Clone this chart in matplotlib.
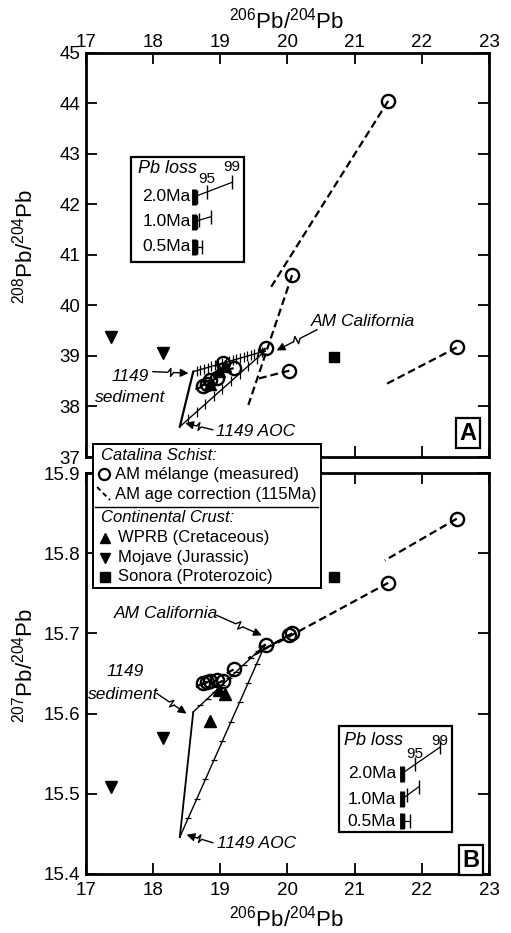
import numpy as np
import matplotlib
matplotlib.use('Agg')
import matplotlib.pyplot as plt
from matplotlib.patches import Rectangle

plt.rcParams['font.family'] = ['Liberation Sans', 'DejaVu Sans']
plt.rcParams['mathtext.fontset'] = 'custom'
plt.rcParams['mathtext.rm'] = 'Liberation Sans'
plt.rcParams['mathtext.it'] = 'Liberation Sans:italic'

# AM melange, medido
pb206 = [21.50, 22.52, 20.07, 20.03, 19.68, 19.20, 19.04, 18.95, 18.85, 18.74, 18.80]
pb207 = [15.763, 15.843, 15.700, 15.698, 15.686, 15.655, 15.641, 15.642, 15.641, 15.638, 15.640]
pb208 = [44.05, 39.17, 40.60, 38.71, 39.15, 38.76, 38.86, 38.56, 38.52, 38.40, 38.45]

# corregido a 115 Ma
corr206 = [19.76, 21.45, 19.42, 19.56, 19.55, 19.05, 18.95, 18.85, 18.70, 18.60, 18.70]
corr207 = [15.684, 15.791, 15.669, 15.676, 15.681, 15.648, 15.637, 15.637, 15.634, 15.631, 15.635]
corr208 = [40.37, 38.43, 38.03, 38.55, 39.05, 38.70, 38.80, 38.50, 38.45, 38.32, 38.40]

# corteza continental
wprb206 = [18.85, 19.07, 18.98]
wprb207 = [15.591, 15.625, 15.630]
wprb208 = [38.45, 38.80, 38.70]
mojave206 = [17.38, 18.15]
mojave207 = [15.509, 15.570]
mojave208 = [39.37, 39.06]
sonora206 = [20.69]
sonora207 = [15.770]
sonora208 = [38.99]

# miembros extremos de mezcla (206, 207, 208)
aoc = [18.40, 15.446, 37.60]
sed = [18.60, 15.602, 38.69]
amcal = [19.67, 15.686, 39.10]

# perdida de Pb (desplazamientos al 95 y 99 %)
loss_labels = ['2.0Ma', '1.0Ma', '0.5Ma']
loss_d206_95 = [0.20, 0.08, 0.04]
loss_d206_99 = [0.57, 0.26, 0.12]
loss_d207_99 = [0.033, 0.016, 0.0]
loss_d208_99 = [0.29, 0.10, 0.0]

W, H = 511, 933
fig = plt.figure(figsize=(W / 100, H / 100), dpi=100)

def px_box(x0, y0, x1, y1):
    return [x0 / W, 1 - y1 / H, (x1 - x0) / W, (y1 - y0) / H]

axA = fig.add_axes(px_box(85.7, 53, 489, 457))
axB = fig.add_axes(px_box(85.7, 473, 489, 874))

dash = (0, (3.5, 1.8))


def flecha(ax, tail, head):
    # flecha con quiebre en zigzag
    t = ax.transData
    p0 = np.array(t.transform(tail))
    p1 = np.array(t.transform(head))
    d = p1 - p0
    n = np.array([-d[1], d[0]]) / np.hypot(*d)
    m1 = p0 + 0.42 * d
    m2 = p0 + 0.50 * d + n * 4
    m3 = p0 + 0.50 * d - n * 4
    m4 = p0 + 0.58 * d
    pts = t.inverted().transform(np.array([p0, m1, m2, m3, m4]))
    ax.plot(pts[:, 0], pts[:, 1], color='k', lw=1.0, zorder=6)
    ax.annotate('', xy=head, xytext=tuple(pts[-1]),
                arrowprops=dict(arrowstyle='-|>', color='k', lw=1.0,
                                mutation_scale=12, shrinkA=0, shrinkB=0),
                zorder=6)


def panel(ax, y, ycorr, wy, my, sy, k, tickm, tms):
    # mezclas
    a = (aoc[0], aoc[k])
    s = (sed[0], sed[k])
    c = (amcal[0], amcal[k])
    ax.plot([a[0], s[0]], [a[1], s[1]], color='k', lw=1.6 if k == 2 else 1.3, zorder=2)
    ax.plot([s[0], c[0]], [s[1], c[1]], color='k', lw=1.0, zorder=2)
    ax.plot([a[0], c[0]], [a[1], c[1]], color='k', lw=1.0, zorder=2)
    fr_s = np.arange(0.05, 1.0, 0.05) if k == 2 else np.arange(0.1, 1.0, 0.1)
    fr_a = np.arange(0.1, 1.0, 0.1)
    ax.plot([s[0] + f * (c[0] - s[0]) for f in fr_s], [s[1] + f * (c[1] - s[1]) for f in fr_s],
            ls='none', marker=tickm, ms=tms, mew=0.9, color='k', zorder=2)
    ax.plot([a[0] + f * (c[0] - a[0]) for f in fr_a], [a[1] + f * (c[1] - a[1]) for f in fr_a],
            ls='none', marker=tickm, ms=tms, mew=0.9, color='k', zorder=2)

    # correccion de edad
    for i in range(len(pb206)):
        ax.plot([pb206[i], corr206[i]], [y[i], ycorr[i]], color='k', lw=1.6, ls=dash, zorder=3)

    ax.plot(wprb206, wy, ls='none', marker='^', ms=8, color='k', zorder=4)
    ax.plot(mojave206, my, ls='none', marker='v', ms=8, color='k', zorder=4)
    ax.plot(sonora206, sy, ls='none', marker='s', ms=7.5, color='k', zorder=4)
    ax.plot(pb206, y, ls='none', marker='o', ms=9.5, mfc='none', mec='k', mew=1.7, zorder=5)

    ax.set_xlim(17, 23)
    ax.set_xticks(range(17, 24))
    ax.tick_params(direction='in', length=8, width=1.3, labelsize=13.5,
                   top=True, right=True)
    ax.tick_params(axis='y', pad=4)
    for sp in ax.spines.values():
        sp.set_linewidth(2.0)


panel(axA, pb208, corr208, wprb208, mojave208, sonora208, 2, '|', 6.5)
panel(axB, pb207, corr207, wprb207, mojave207, sonora207, 1, '_', 4.5)

axA.set_ylim(37, 45)
axA.set_yticks(range(37, 46))
axA.tick_params(axis='x', labeltop=True, labelbottom=False, pad=1.5)
axB.set_ylim(15.4, 15.9)
axB.set_yticks([15.4, 15.5, 15.6, 15.7, 15.8, 15.9])
axB.set_yticklabels(['15.4', '15.5', '15.6', '15.7', '15.8', '15.9'])
axB.tick_params(axis='x', pad=6)

lab_kw = dict(fontsize=16, ha='center', va='baseline')
fig.text(287 / W, 1 - 28 / H, r'$\mathregular{^{206}Pb/^{204}Pb}$', **lab_kw)
fig.text(287 / W, 1 - 927 / H, r'$\mathregular{^{206}Pb/^{204}Pb}$', **lab_kw)
fig.text(33 / W, 1 - 246 / H, r'$\mathregular{^{208}Pb/^{204}Pb}$', rotation=90,
         rotation_mode='anchor', **lab_kw)
fig.text(33 / W, 1 - 665 / H, r'$\mathregular{^{207}Pb/^{204}Pb}$', rotation=90,
         rotation_mode='anchor', **lab_kw)

# anotaciones panel A
it = dict(fontsize=12.5, style='italic', ha='center', va='center', zorder=7)
axA.text(21.13, 39.68, 'AM California', **it)
flecha(axA, (20.44, 39.52), (19.84, 39.11))
axA.text(17.66, 38.60, '1149', **it)
axA.text(17.66, 38.18, 'sediment', **it)
flecha(axA, (18.00, 38.69), (18.53, 38.66))
axA.text(19.52, 37.51, '1149 AOC', **it)
flecha(axA, (18.89, 37.54), (18.48, 37.67))
axA.text(22.69, 37.47, 'A', fontsize=17, fontweight='bold', ha='center', va='center',
         bbox=dict(boxstyle='square,pad=0.15', fc='white', ec='k', lw=1.6))

# anotaciones panel B
axB.text(18.20, 15.725, 'AM California', **it)
flecha(axB, (18.95, 15.7225), (19.62, 15.6975))
axB.text(17.58, 15.652, '1149', **it)
axB.text(17.56, 15.624, 'sediment', **it)
flecha(axB, (18.06, 15.625), (18.50, 15.600))
axB.text(19.54, 15.438, '1149 AOC', **it)
flecha(axB, (18.89, 15.439), (18.50, 15.449))
axB.text(22.73, 15.417, 'B', fontsize=17, fontweight='bold', ha='center', va='center',
         bbox=dict(boxstyle='square,pad=0.15', fc='white', ec='k', lw=1.6))


def recuadro(ax, box, title_xy, lab_x, bar_x, rows_y, d_other, n95, n99):
    x0, y0, x1, y1 = box
    ax.add_patch(Rectangle((x0, y0), x1 - x0, y1 - y0, fill=False, ec='k', lw=1.6, zorder=6))
    ax.text(title_xy[0], title_xy[1], 'Pb loss', fontsize=13, style='italic', ha='left', va='center')
    for j, lab in enumerate(loss_labels):
        yy = rows_y[j]
        ax.text(lab_x, yy, lab, fontsize=12.5, ha='left', va='center')
        xe = bar_x + loss_d206_99[j]
        ye = yy + d_other[j]
        x95 = bar_x + loss_d206_95[j]
        y95 = yy + d_other[j] * loss_d206_95[j] / loss_d206_99[j]
        ax.plot([bar_x, xe], [yy, ye], color='k', lw=0.9)
        ax.plot([bar_x], [yy], marker='|', ms=11, mew=3.5, color='k')
        ax.plot([bar_x + 0.04], [yy], marker='|', ms=10, mew=1.0, color='k')
        ax.plot([x95, xe], [y95, ye], ls='none', marker='|', ms=10, mew=1.0, color='k')
    ax.text(n95[0], n95[1], '95', fontsize=11, ha='center', va='center')
    ax.text(n99[0], n99[1], '99', fontsize=11, ha='center', va='center')


recuadro(axA, (17.67, 40.86, 19.36, 42.95), (17.78, 42.72), 17.84, 18.61,
         [42.15, 41.66, 41.16], loss_d208_99, (18.80, 42.50), (19.18, 42.74))
recuadro(axB, (20.77, 15.452, 22.45, 15.584), (20.85, 15.567), 20.90, 21.70,
         [15.525, 15.493, 15.466], loss_d207_99, (21.89, 15.550), (22.27, 15.566))

# leyenda comun
lg = fig.add_axes(px_box(93, 444, 321, 588), zorder=10)
lg.set_xlim(93, 321)
lg.set_ylim(588, 444)
lg.set_xticks([])
lg.set_yticks([])
lg.set_facecolor('white')
for sp in lg.spines.values():
    sp.set_linewidth(1.4)
fs = 12
lg.text(100.7, 455, 'Catalina Schist:', fontsize=fs, style='italic', va='center')
lg.plot([104], [474.3], marker='o', ms=8, mfc='none', mec='k', mew=1.6)
lg.text(115, 474.3, 'AM mélange (measured)', fontsize=fs, va='center')
lg.plot([97, 110], [487, 500], color='k', lw=1.4, ls=(0, (2.5, 1.8)))
lg.text(115, 494, 'AM age correction (115Ma)', fontsize=fs, va='center')
lg.plot([95, 318], [506.7, 506.7], color='k', lw=1.0)
lg.text(100.7, 517.7, 'Continental Crust:', fontsize=fs, style='italic', va='center')
lg.plot([105], [537.7], marker='^', ms=7.5, color='k')
lg.text(118.3, 537.7, 'WPRB (Cretaceous)', fontsize=fs, va='center')
lg.plot([105], [557.7], marker='v', ms=7.5, color='k')
lg.text(118.3, 557.7, 'Mojave (Jurassic)', fontsize=fs, va='center')
lg.plot([105], [576.7], marker='s', ms=7, color='k')
lg.text(118.3, 576.7, 'Sonora (Proterozoic)', fontsize=fs, va='center')

fig.savefig('out.png', dpi=100)
